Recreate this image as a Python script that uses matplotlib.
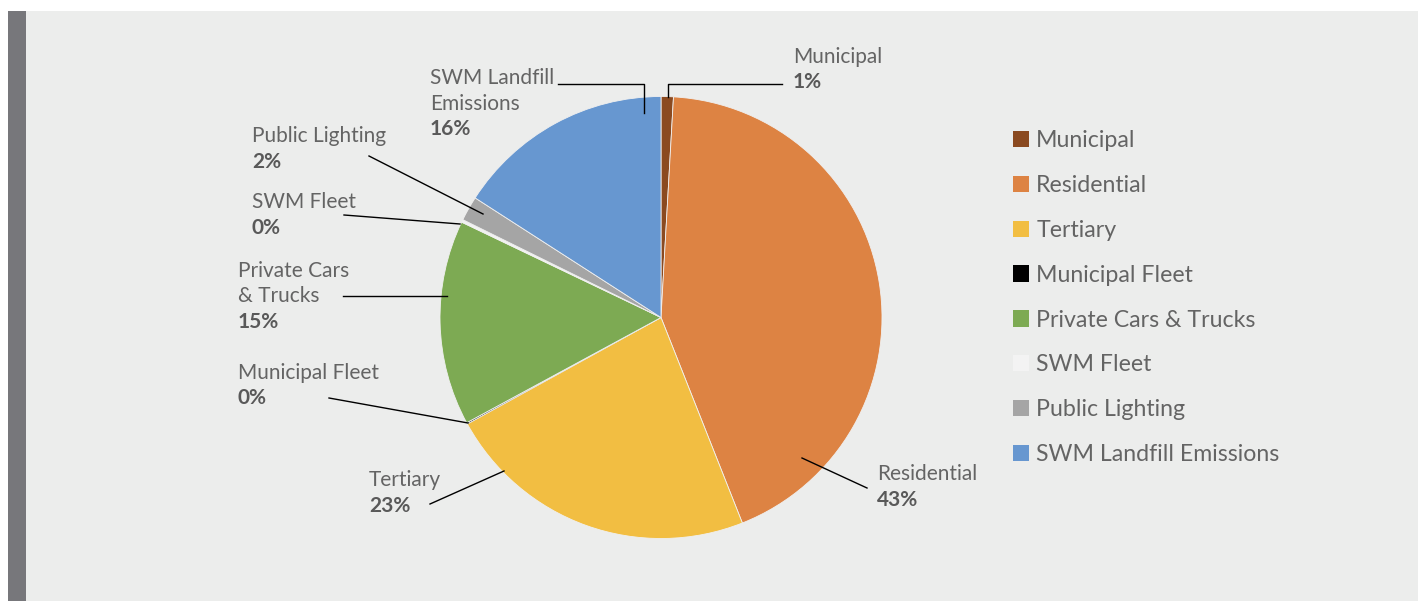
import matplotlib
matplotlib.use("Agg")
import matplotlib.pyplot as plt
from matplotlib.patches import Rectangle
from matplotlib.lines import Line2D

# ---- data ----
categories = ["Municipal", "Residential", "Tertiary", "Municipal Fleet",
              "Private Cars & Trucks", "SWM Fleet", "Public Lighting",
              "SWM Landfill Emissions"]
values = [0.9, 43.1, 23.0, 0.1, 15.0, 0.2, 1.8, 15.9]
pct_labels = ["1%", "43%", "23%", "0%", "15%", "0%", "2%", "16%"]
label_names = ["Municipal", "Residential", "Tertiary", "Municipal Fleet",
               "Private Cars\n& Trucks", "SWM Fleet", "Public Lighting",
               "SWM Landfill\nEmissions"]
colors = ["#8B4A20", "#DD8343", "#F2BE42", "#000000", "#7DAA53",
          "#F3F3F3", "#A5A5A5", "#6797D0"]

# ---- layout (figure pixels, measured from top) ----
W, H = 1418, 601
label_pos = [(793, 57), (877, 474), (369, 480), (238, 373),
             (238, 271), (252, 202), (252, 136), (430, 78)]
leaders = [
    [(668, 97), (668, 84), (782, 84)],
    [(802, 458), (867, 488)],
    [(504, 471), (430, 504)],
    [(468, 423), (329, 398)],
    [(447, 296), (343, 296)],
    [(460, 224), (344, 215)],
    [(483, 214), (369, 156)],
    [(644, 113), (644, 84), (558, 84)],
]

FONT = "Lato"
TXT = "#595959"
LINE_H = 25.5

fig = plt.figure(figsize=(W / 100, H / 100), dpi=100, facecolor="white")

def fx(x):
    return x / W

def fy(y):
    return 1 - y / H

# background panel and left bar
fig.add_artist(Rectangle((fx(8), 0), 1 - fx(8), fy(11), transform=fig.transFigure,
                         facecolor="#ECEDEC", edgecolor="none", zorder=0))
fig.add_artist(Rectangle((fx(8), 0), fx(26) - fx(8), fy(11), transform=fig.transFigure,
                         facecolor="#77777B", edgecolor="none", zorder=0))

cx, cy, r = 661, 317.5, 221
ax = fig.add_axes([fx(cx - r), fy(cy + r), 2 * r / W, 2 * r / H])
ax.set_facecolor("none")
wedges, _ = ax.pie(values, colors=colors, startangle=90, counterclock=False,
                   radius=1.0, wedgeprops=dict(edgecolor="#F0F0F0", linewidth=0.6))
ax.set_xlim(-1, 1)
ax.set_ylim(-1, 1)
ax.set_aspect("equal")
ax.axis("off")

# leader lines
for pts in leaders:
    xs = [fx(p[0]) for p in pts]
    ys = [fy(p[1]) for p in pts]
    fig.add_artist(Line2D(xs, ys, transform=fig.transFigure, color="black",
                          linewidth=1.0, zorder=5))

# labels
for name, pct, (x, y) in zip(label_names, pct_labels, label_pos):
    lines = name.split("\n")
    for i, ln in enumerate(lines):
        fig.text(fx(x), fy(y + LINE_H * i), ln, ha="left", va="center",
                 fontsize=15, family=FONT, fontweight="normal", color="#646464")
    fig.text(fx(x), fy(y + LINE_H * len(lines)), pct, ha="left", va="center",
             fontsize=15, family=FONT, fontweight="bold", color=TXT)

# legend
leg = fig.legend(wedges, categories, loc="upper left",
                 bbox_to_anchor=(fx(1013), fy(130)), frameon=False,
                 prop=dict(family=FONT, weight="normal", size=16.7),
                 handlelength=0.7, handleheight=0.7, handletextpad=0.3,
                 labelspacing=1.03, borderpad=0, borderaxespad=0)
for t in leg.get_texts():
    t.set_color("#646464")
for h in leg.legend_handles:
    h.set_edgecolor("none")

fig.savefig("out.png", dpi=100, facecolor="white")
